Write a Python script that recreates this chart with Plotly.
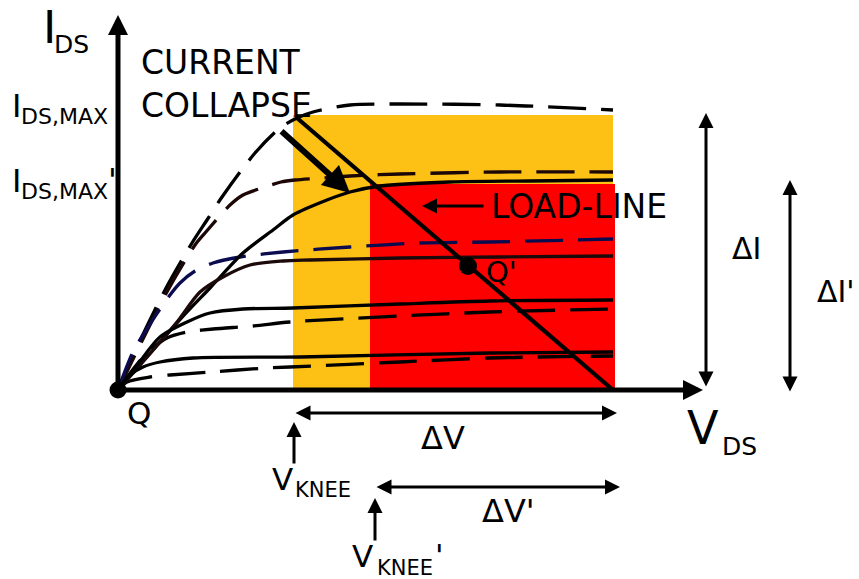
import plotly.graph_objects as go

# ---------------- data (V_DS, I_DS in arbitrary units, origin at Q) ----------------
# solid (pulsed from quiescent Q) output characteristics
s1_v = [0, 35, 69, 92, 125, 155, 175, 209, 232, 262, 332, 412, 495]
s1_i = [0, 40, 78, 102, 137, 160, 175, 190, 198, 204, 208, 209, 210]
s2_v = [0, 30, 59, 82, 105, 132, 165, 192, 282, 382, 495]
s2_i = [0, 34, 68, 98, 113, 125, 129, 130, 132, 133, 134]
s3_v = [0, 20, 42, 69, 92, 125, 175, 282, 372, 495]
s3_i = [0, 26, 53, 68, 77, 81, 82, 86, 89, 90]
s4_v = [0, 12, 25, 42, 75, 182, 372, 495]
s4_i = [0, 15, 23, 28, 32, 33, 37, 38]

# dashed (DC / no collapse) characteristics
a_v = [0, 20, 47, 74, 89, 104, 137, 162, 179, 195, 232, 282, 382, 495]
a_i = [0, 45, 100, 147, 170, 193, 237, 262, 272, 278, 285, 286, 285, 280]
b_v = [0, 22, 50, 77, 87, 112, 125, 147, 163, 177, 205, 232, 282, 382, 495]
b_i = [0, 45, 100, 145, 157, 185, 195, 203, 208, 210, 212, 214, 216, 218, 218]
n_v = [0, 15, 30, 52, 62, 77, 95, 122, 165, 232, 302, 372, 495]
n_i = [0, 38, 63, 95, 107, 119, 127, 133, 138, 143, 147, 148, 151]
d_v = [0, 20, 35, 49, 69, 95, 135, 172, 282, 372, 495]
d_i = [0, 27, 42, 52, 58, 61, 64, 68, 74, 78, 81]
e_v = [0, 9, 32, 52, 92, 149, 172, 282, 372, 495]
e_i = [0, 8, 13, 15, 18, 22, 23, 28, 32, 34]

# load line and bias points
load_v = [179, 495]
load_i = [272, 0]
q_point = [0, 0]
qp_point = [350, 124]

# regions (V range, I max)
region_full_v = [175, 495]
region_full_i = 275
region_coll_v = [252, 497]
region_coll_i = 206

# dimension markers
v_knee = 176
v_knee_p = 257
v_end = 499
i_max = 277
i_max_p = 210

# ---------------- figure ----------------
X0, Y0 = 118, 390  # pixel position of origin (helper for label placement)


def P(x, y):
    return x - X0, Y0 - y


fig = go.Figure()

fig.add_shape(type="rect", x0=region_full_v[0], x1=region_full_v[1], y0=0, y1=region_full_i,
              fillcolor="#fdc014", line_width=0, layer="below")
fig.add_shape(type="rect", x0=region_coll_v[0], x1=region_coll_v[1], y0=0, y1=region_coll_i,
              fillcolor="#ff0000", line_width=0, layer="below")

DASH = "38px,15px"
curves = [
    (a_v, a_i, "#000000", DASH),
    (b_v, b_i, "#1c0606", DASH),
    (n_v, n_i, "#0b0b50", DASH),
    (d_v, d_i, "#000000", DASH),
    (e_v, e_i, "#000000", DASH),
    (s1_v, s1_i, "#000000", "solid"),
    (s2_v, s2_i, "#1c0a0a", "solid"),
    (s3_v, s3_i, "#000000", "solid"),
    (s4_v, s4_i, "#000000", "solid"),
]
for vx, iy, col, dash in curves:
    fig.add_trace(go.Scatter(x=vx, y=iy, mode="lines",
                             line=dict(color=col, width=3.3, dash=dash, shape="spline", smoothing=0.8),
                             hoverinfo="skip", showlegend=False))

fig.add_trace(go.Scatter(x=load_v, y=load_i, mode="lines", line=dict(color="black", width=4.2),
                         hoverinfo="skip", showlegend=False))


def arrow(x0, y0, x1, y1, w=3, size=1.0, both=False, head=2):
    fig.add_annotation(x=x1, y=y1, ax=x0, ay=y0, xref="x", yref="y", axref="x", ayref="y",
                       text="", showarrow=True, arrowhead=head, arrowsize=size, arrowwidth=w,
                       arrowcolor="black", arrowside="end+start" if both else "end",
                       startarrowhead=head, startarrowsize=size)


# axes
arrow(0, -2, 0, 375, w=5, size=0.8)
arrow(-2, 0, 585, 0, w=5, size=0.8)
# current collapse arrow
arrow(162, 260, 232, 197, w=6, size=0.9)
# load-line pointer
arrow(367, 184, 304, 184, w=3, size=1.0)
# dimension arrows
arrow(v_knee, -23, v_end, -23, w=3, size=1.0, both=True)
arrow(v_knee_p, -97, v_end + 3, -97, w=3, size=1.0, both=True)
arrow(v_knee, -75, v_knee, -32, w=3, size=1.0)
arrow(v_knee_p, -152, v_knee_p, -108, w=3, size=1.0)
arrow(588, 2, 588, i_max, w=3, size=1.0, both=True)
arrow(672, -3, 672, i_max_p, w=3, size=1.0, both=True)

# bias-point dots drawn as shapes above the axis lines
for (pv, pi), r in ((q_point, 8.5), (qp_point, 9)):
    fig.add_shape(type="circle", xref="x", yref="y", x0=pv - r, x1=pv + r, y0=pi - r, y1=pi + r,
                  fillcolor="black", line_width=0, layer="above")

FONT = "DejaVu Sans"


def label(text, x, y, size, xanchor="left"):
    vx, iy = P(x, y)
    fig.add_annotation(x=vx, y=iy, xref="x", yref="y", text=text, showarrow=False,
                       xanchor=xanchor, yanchor="middle", align="left",
                       font=dict(family=FONT, size=size, color="black"), borderpad=0)


label("CURRENT<br>COLLAPSE", 140, 84, 33)
label("LOAD-LINE", 490, 206, 33)
label("I", 42, 27, 45)
label("DS", 53, 44, 25)
label("I", 11, 106, 32)
label("DS,MAX", 20, 116, 22)
label("I", 11, 181, 32)
label("DS,MAX", 20, 191, 22)
label("'", 107, 180, 32)
label("V", 686, 428, 46)
label("DS", 721, 446, 25)
label("ΔV", 443, 438, 32, xanchor="center")
label("ΔV'", 481, 511, 32)
label("V", 271, 479, 31)
label("KNEE", 294, 490, 21)
label("V", 351, 556, 31)
label("KNEE", 376, 568, 21)
label("'", 434, 555, 31)
label("ΔI", 731, 248, 30)
label("ΔI'", 816, 291, 30)
label("Q", 139, 413, 31, xanchor="center")
label("Q'", 485, 272, 29)

fig.update_layout(
    width=859, height=579, margin=dict(l=0, r=0, t=0, b=0),
    paper_bgcolor="white", plot_bgcolor="white",
    xaxis=dict(range=[-X0, 859 - X0], visible=False, fixedrange=True),
    yaxis=dict(range=[Y0 - 579, Y0], visible=False, fixedrange=True),
    showlegend=False,
)

fig.write_html("out.html", config={"displayModeBar": False},
               post_script="document.body.style.margin='0';document.body.style.overflow='hidden';")
